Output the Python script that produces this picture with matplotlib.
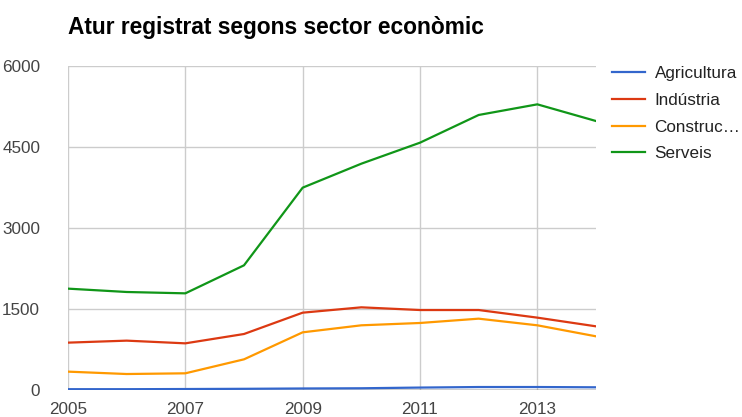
import matplotlib
matplotlib.use("Agg")
import matplotlib.pyplot as plt

years = [2005, 2006, 2007, 2008, 2009, 2010, 2011, 2012, 2013, 2014]
agricultura = [15, 15, 18, 22, 28, 32, 45, 55, 55, 50]
industria = [877, 914, 864, 1037, 1432, 1531, 1481, 1481, 1340, 1179]
construccio = [340, 296, 309, 568, 1068, 1198, 1241, 1321, 1198, 994]
serveis = [1877, 1815, 1790, 2309, 3747, 4191, 4580, 5093, 5290, 4981]

series_labels = ["Agricultura", "Indústria", "Construc…", "Serveis"]
colors = ["#3366cc", "#dc3912", "#ff9900", "#109618"]
title = "Atur registrat segons sector econòmic"
yticks = [0, 1500, 3000, 4500, 6000]
xticks = [2005, 2007, 2009, 2011, 2013]

plt.rcParams['font.family'] = ['Liberation Sans', 'DejaVu Sans']

W, H = 742, 417
fig = plt.figure(figsize=(W / 100, H / 100), dpi=100)
ax = fig.add_axes([68 / W, (H - 390) / H, (596 - 68) / W, (390 - 66) / H])

ax.axhline(0, color="#333333", lw=1.0, zorder=2)
for vals, lab, c in zip([agricultura, industria, construccio, serveis], series_labels, colors):
    ax.plot(years, vals, color=c, lw=1.6, label=lab, zorder=3, solid_joinstyle="round")

ax.set_xlim(2005, 2014)
ax.set_ylim(0, 6000)
ax.set_xticks(xticks)
ax.set_yticks(yticks)
ax.set_xticklabels([str(x) for x in xticks])
ax.set_yticklabels([str(y) for y in yticks])
ax.grid(True, color="#cccccc", lw=1.0, zorder=0)
for s in ax.spines.values():
    s.set_visible(False)
ax.tick_params(axis="both", length=0, labelsize=12.3, labelcolor="#444444")
ax.tick_params(axis="y", pad=20)
ax.tick_params(axis="x", pad=9)

fig.text(68 / W, 1 - 34 / H, title, fontsize=16.4, fontweight="bold", color="#000000",
         ha="left", va="baseline")

fig.legend(loc="upper left", bbox_to_anchor=(612 / W, 1 - 66 / H), frameon=False,
           fontsize=12.3, handlelength=1.94, handletextpad=0.55, labelspacing=0.69,
           borderpad=0, borderaxespad=0, labelcolor="#222222")

fig.savefig("out.png", dpi=100)
